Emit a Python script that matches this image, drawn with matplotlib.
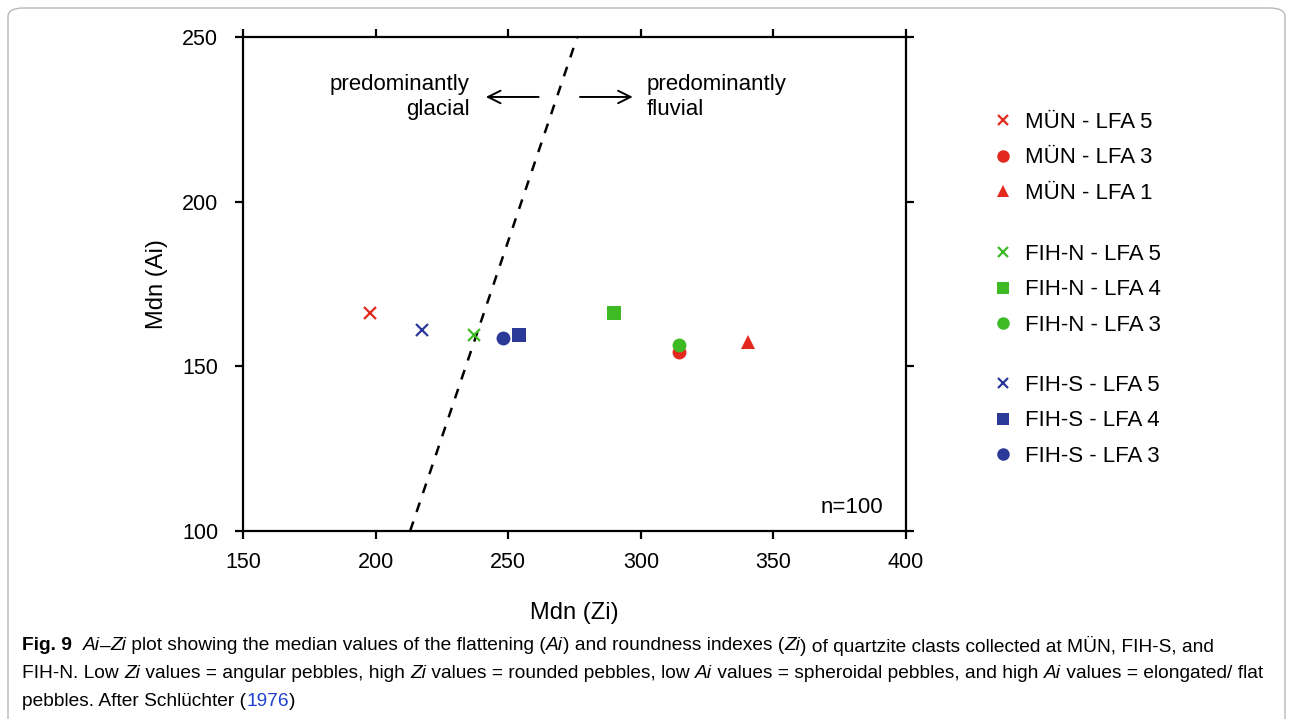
import numpy as np
import matplotlib
matplotlib.use("Agg")
import matplotlib.pyplot as plt
from matplotlib.patches import FancyBboxPatch

# Data
labels = ["MÜN - LFA 5", "MÜN - LFA 3", "MÜN - LFA 1",
          "FIH-N - LFA 5", "FIH-N - LFA 4", "FIH-N - LFA 3",
          "FIH-S - LFA 5", "FIH-S - LFA 4", "FIH-S - LFA 3"]
zi = [198, 314.5, 340.5, 237, 290, 314.5, 217.5, 254, 248]
ai = [166.2, 154.4, 157.4, 159.5, 166.2, 156.5, 161.0, 159.5, 158.6]
markers = ["x", "o", "^", "x", "s", "o", "x", "s", "o"]
groups = [0, 0, 0, 1, 1, 1, 2, 2, 2]
boundary_zi = [213, 276]
boundary_ai = [100, 250]

RED, GREEN, BLUE = "#e3291d", "#3dba24", "#2b3a98"
group_colors = [RED, GREEN, BLUE]

plt.rcParams["font.family"] = ["Liberation Sans", "DejaVu Sans"]

fig = plt.figure(figsize=(12.93, 7.19), dpi=100)
ax = fig.add_axes([0.188, 0.2615, 0.5127, 0.687])

# dashed glacial / fluvial boundary
ax.plot(boundary_zi, boundary_ai, color="black", ls=(0, (4, 4)), lw=1.8)

handles = []
for i in range(len(labels)):
    col = group_colors[groups[i]]
    if markers[i] == "x":
        kw = dict(ms=8, mew=1.6)
    elif markers[i] == "^":
        kw = dict(ms=10, mew=0)
    elif markers[i] == "s":
        kw = dict(ms=9.5, mew=0)
    else:
        kw = dict(ms=10, mew=0)
    h, = ax.plot(zi[i], ai[i], ls="none", marker=markers[i], color=col,
                 label=labels[i], **kw)
    handles.append(h)

ax.set_xlim(150, 400)
ax.set_ylim(100, 250)
ax.set_xticks([150, 200, 250, 300, 350, 400])
ax.set_yticks([100, 150, 200, 250])
for s in ax.spines.values():
    s.set_linewidth(1.6)
ax.tick_params(direction="out", length=6, width=1.6, labelsize=15.5,
               top=True, right=True)
ax.tick_params(axis="y", pad=12)
ax.tick_params(axis="x", pad=9)
ax.set_xlabel("Mdn (Zi)", fontsize=17, labelpad=21)
ax.set_ylabel("Mdn (Ai)", fontsize=17, labelpad=10)

# annotations
ax.text(235.5, 231.8, "predominantly\nglacial", ha="right", va="center",
        fontsize=16, linespacing=1.2, multialignment="right")
ax.text(302, 231.8, "predominantly\nfluvial", ha="left", va="center",
        fontsize=16, linespacing=1.2, multialignment="left")
ax.annotate("", xy=(240.5, 231.8), xytext=(262.5, 231.8),
            arrowprops=dict(arrowstyle="->,head_length=0.9,head_width=0.45", lw=1.4))
ax.annotate("", xy=(298, 231.8), xytext=(276, 231.8),
            arrowprops=dict(arrowstyle="->,head_length=0.9,head_width=0.45", lw=1.4))
ax.text(391.5, 107, "n=100", ha="right", va="center", fontsize=16)

# legend in three groups
tops = [1 - 112 / 719, 1 - 244 / 719, 1 - 375 / 719]
for g in range(3):
    hs = [handles[i] for i in range(len(labels)) if groups[i] == g]
    fig.legend(handles=hs, loc="upper left",
               bbox_to_anchor=(994 / 1293, tops[g]), frameon=False,
               fontsize=16, handlelength=0.8, handletextpad=0.6,
               labelspacing=0.65, borderaxespad=0, borderpad=0,
               markerscale=0.9)

# frame around the figure
frame = FancyBboxPatch((8 / 1293, -0.05), 1277 / 1293, 1.05 - 8 / 719,
                       boxstyle="round,pad=0,rounding_size=0.012",
                       transform=fig.transFigure, fill=False,
                       edgecolor="#b8b8b8", lw=1.0)
fig.patches.append(frame)

# caption
cap_font = ["Liberation Sans", "DejaVu Sans"]
cap_size = 13.8
lines = [
    [("Fig. 9", dict(weight="bold")), ("  ", {}), ("Ai", dict(style="italic")),
     ("–", {}), ("Zi", dict(style="italic")),
     (" plot showing the median values of the flattening (", {}),
     ("Ai", dict(style="italic")), (") and roundness indexes (", {}),
     ("Zi", dict(style="italic")),
     (") of quartzite clasts collected at MÜN, FIH-S, and", {})],
    [("FIH-N. Low ", {}), ("Zi", dict(style="italic")),
     (" values = angular pebbles, high ", {}), ("Zi", dict(style="italic")),
     (" values = rounded pebbles, low ", {}), ("Ai", dict(style="italic")),
     (" values = spheroidal pebbles, and high ", {}), ("Ai", dict(style="italic")),
     (" values = elongated/ flat", {})],
    [("pebbles. After Schlüchter (", {}), ("1976", dict(color="#1f3fd0")),
     (")", {})],
]
line_y = [1 - 646 / 719, 1 - 674 / 719, 1 - 701 / 719]
renderer = fig.canvas.get_renderer()
W = fig.bbox.width
for segs, y in zip(lines, line_y):
    x = 22 / 1293
    for txt, props in segs:
        t = fig.text(x, y, txt, fontsize=cap_size, family=cap_font,
                     va="center", ha="left", **props)
        bb = t.get_window_extent(renderer)
        x += bb.width / W

fig.savefig("out.png", dpi=100)
